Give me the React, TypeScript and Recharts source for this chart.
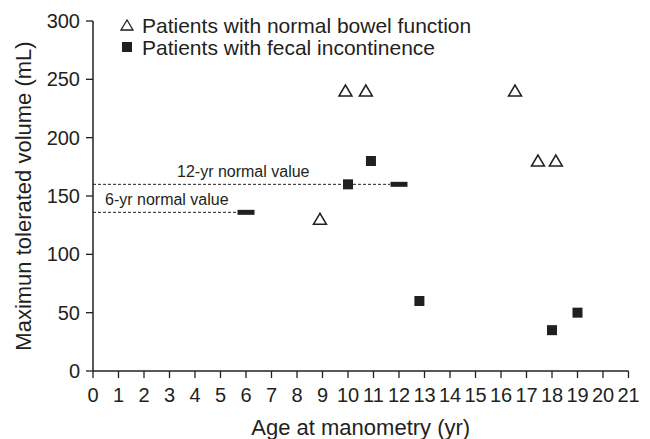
// Maximum tolerated volume vs age at manometry, scatter with reference values

import { ScatterChart, Scatter, XAxis, YAxis, ReferenceLine, Legend, Label } from 'recharts'

const ink = '#231f20'
const font = '"Liberation Sans", Arial, Helvetica, sans-serif'

const ageTicks = [0, 1, 2, 3, 4, 5, 6, 7, 8, 9, 10, 11, 12, 13, 14, 15, 16, 17, 18, 19, 20, 21]
const volumeTicks = [0, 50, 100, 150, 200, 250, 300]

// patients with normal bowel function (triangles)
const normalAges = [8.9, 9.9, 10.7, 16.55, 17.45, 18.15]
const normalVolumes = [130, 240, 240, 240, 180, 180]

// patients with fecal incontinence (squares)
const incontAges = [10, 10.9, 12.8, 18, 19]
const incontVolumes = [160, 180, 60, 35, 50]

// normal values by age (bars + dotted lines)
const refAges = [6, 12]
const refVolumes = [136, 160]
const refLineEnds = [5.67, 11.65]
const refLabels = ['6-yr normal value', '12-yr normal value']
const refLabelShift = [12, 84]

const normalData = normalAges.map((age, i) => ({ age, volume: normalVolumes[i] }))
const incontData = incontAges.map((age, i) => ({ age, volume: incontVolumes[i] }))
const refData = refAges.map((age, i) => ({ age, volume: refVolumes[i] }))

const Triangle = ({ cx, cy }: any) => (
  <polygon
    points={`${cx},${cy - 6} ${cx - 6.5},${cy + 5} ${cx + 6.5},${cy + 5}`}
    fill="#fff"
    stroke={ink}
    strokeWidth={1.5}
  />
)

const Square = ({ cx, cy }: any) => <rect x={cx - 5} y={cy - 5} width={10} height={10} fill={ink} />

const Bar = ({ cx, cy }: any) => <rect x={cx - 8.5} y={cy - 2.5} width={17} height={5} fill={ink} />

function LegendBox() {
  const row = { display: 'flex', alignItems: 'center', height: 22, whiteSpace: 'nowrap' as const }
  return (
    <div style={{ fontFamily: font, fontSize: 21, color: ink, lineHeight: '21px' }}>
      <div style={row}>
        <svg width={26} height={22}>
          <polygon points="11,6 5,16 17,16" fill="#fff" stroke={ink} strokeWidth={1.3} />
        </svg>
        Patients with normal bowel function
      </div>
      <div style={row}>
        <svg width={26} height={22}>
          <rect x={6} y={6} width={10} height={10} fill={ink} />
        </svg>
        Patients with fecal incontinence
      </div>
    </div>
  )
}

export default function App() {
  return (
    <div style={{ position: 'absolute', left: 0, top: 0, width: 650, height: 439, background: '#fff' }}>
      <ScatterChart width={650} height={439} margin={{ top: 21, right: 21.5, bottom: 0, left: 0 }} style={{ fontFamily: font }}>
        <XAxis
          type="number"
          dataKey="age"
          domain={[0, 21]}
          ticks={ageTicks}
          interval={0}
          height={68}
          tickSize={7}
          tickMargin={10}
          stroke={ink}
          axisLine={{ stroke: ink, strokeWidth: 1.5 }}
          tickLine={{ stroke: ink, strokeWidth: 1.3 }}
          tick={{ fontSize: 20, fill: ink, fontFamily: font }}
        >
          <Label
            content={({ viewBox }: any) => (
              <text x={viewBox.x + viewBox.width / 2} y={viewBox.y + 64} textAnchor="middle" fontSize={22} fill={ink} fontFamily={font}>
                Age at manometry (yr)
              </text>
            )}
          />
        </XAxis>
        <YAxis
          type="number"
          dataKey="volume"
          domain={[0, 300]}
          ticks={volumeTicks}
          interval={0}
          width={93}
          tickSize={7}
          tickMargin={6}
          stroke={ink}
          axisLine={{ stroke: ink, strokeWidth: 1.5 }}
          tickLine={{ stroke: ink, strokeWidth: 1.3 }}
          tick={{ fontSize: 20, fill: ink, fontFamily: font }}
        >
          <Label
            content={({ viewBox }: any) => {
              const cy = viewBox.y + viewBox.height / 2
              return (
                <text x={31} y={cy} transform={`rotate(-90, 31, ${cy})`} textAnchor="middle" fontSize={22} fill={ink} fontFamily={font}>
                  Maximun tolerated volume (mL)
                </text>
              )
            }}
          />
        </YAxis>
        {refAges.map((age, i) => (
          <ReferenceLine
            key={age}
            segment={[
              { x: 0, y: refVolumes[i] },
              { x: refLineEnds[i], y: refVolumes[i] },
            ]}
            stroke={ink}
            strokeWidth={1}
            strokeDasharray="3 2"
            ifOverflow="visible"
            label={({ viewBox }: any) => (
              <text x={viewBox.x + refLabelShift[i]} y={viewBox.y - 7} fontSize={16} fill={ink} fontFamily={font}>
                {refLabels[i]}
              </text>
            )}
          />
        ))}
        <Scatter name="normal" data={normalData} shape={Triangle} isAnimationActive={false} />
        <Scatter name="incontinence" data={incontData} shape={Square} isAnimationActive={false} />
        <Scatter name="normal value" data={refData} shape={Bar} isAnimationActive={false} />
        <Legend
          layout="vertical"
          align="center"
          verticalAlign="middle"
          content={() => <LegendBox />}
          wrapperStyle={{ left: 116, top: 14, width: 'auto' }}
        />
      </ScatterChart>
    </div>
  )
}
